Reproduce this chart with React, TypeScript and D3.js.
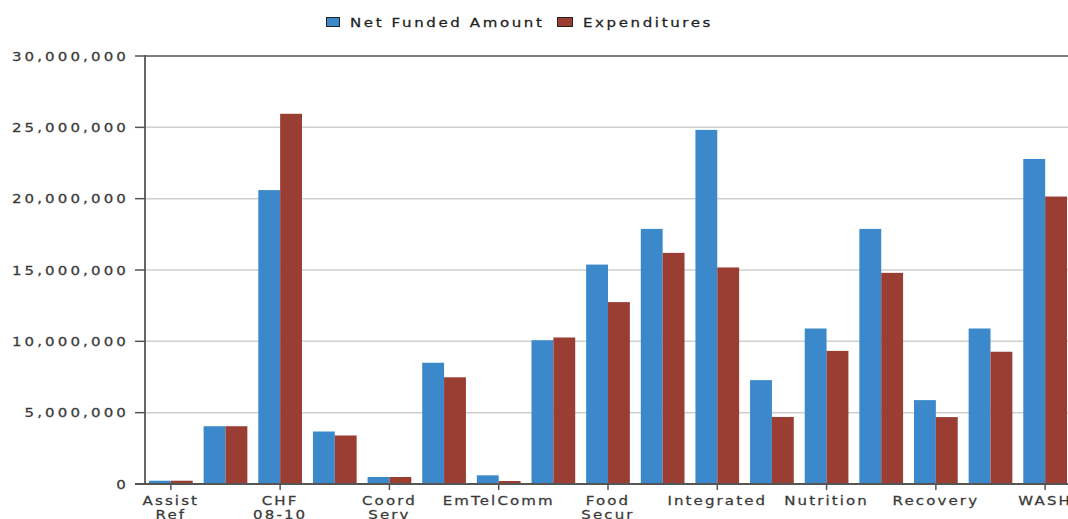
import React from "react";
import * as d3 from "d3";

const categories = [
  "Assist Ref", "CCCM", "CHF 08-10", "Cluster Coord", "Coord Serv", "Education",
  "EmTelComm", "Environment", "Food Secur", "Health", "Integrated", "Logistics",
  "Nutrition", "Protection", "Recovery", "Shelter NFI", "WASH",
];
const categoryLabels = [
  ["Assist", "Ref"], [], ["CHF", "08-10"], [], ["Coord", "Serv"], [],
  ["EmTelComm"], [], ["Food", "Secur"], [], ["Integrated"], [],
  ["Nutrition"], [], ["Recovery"], [], ["WASH"],
];
const netFunded = [
  230000, 4050000, 20600000, 3680000, 490000, 8500000,
  610000, 10080000, 15380000, 17880000, 24820000, 7280000,
  10900000, 17880000, 5880000, 10900000, 22780000,
];
const expenditures = [
  230000, 4050000, 25950000, 3400000, 490000, 7480000,
  210000, 10270000, 12750000, 16200000, 15180000, 4700000,
  9330000, 14800000, 4690000, 9270000, 20150000,
];
const yTicks = [0, 5000000, 10000000, 15000000, 20000000, 25000000, 30000000];
const seriesNames = ["Net Funded Amount", "Expenditures"];
const seriesColors = ["#3b89ca", "#9a3e33"];

const W = 1068;
const H = 519;
const left = 145;
const bandStart = 149;
const right = 1068;
const top = 56;
const bottom = 484;
const SX = 1.25;
const FONT = "'DejaVu Sans', Verdana, sans-serif";

function SText({ x, y, anchor, ls, children, fill, size }: any) {
  const c = fill ?? "#3a3a3a";
  return (
    <g transform={`translate(${x},${y}) scale(${SX},1)`}>
      <text
        textAnchor={anchor}
        fontFamily={FONT}
        fontSize={size ?? 12}
        letterSpacing={ls}
        fill={c}
        stroke={c}
        strokeWidth={0.25}
      >
        {children}
      </text>
    </g>
  );
}

export default function App() {
  const x0 = d3.scaleBand<string>().domain(categories).range([bandStart, right - 1]).paddingInner(0.2).paddingOuter(0);
  const x1 = d3.scaleBand<number>().domain([0, 1]).range([0, x0.bandwidth()]).padding(0);
  const y = d3.scaleLinear().domain([0, 30000000]).range([bottom, top]);
  const fmt = d3.format(",");
  const series = [netFunded, expenditures];

  return (
    <svg width={W} height={H} style={{ position: "absolute", left: 0, top: 0, background: "#fff" }}>
      {yTicks.filter((t) => t > 0 && t < 30000000).map((t) => (
        <line key={t} x1={left} x2={right} y1={y(t)} y2={y(t)} stroke="#cfcfcf" strokeWidth={1.5} />
      ))}
      <line x1={left} x2={right} y1={y(30000000)} y2={y(30000000)} stroke="#555" strokeWidth={1.5} />
      {categories.map((c, i) => (
        <g key={c}>
          {series.map((s, k) => (
            <rect
              key={k}
              x={(x0(c) ?? 0) + (x1(k) ?? 0)}
              y={y(s[i])}
              width={x1.bandwidth()}
              height={bottom - y(s[i])}
              fill={seriesColors[k]}
            />
          ))}
        </g>
      ))}
      <line x1={left} x2={left} y1={top - 1} y2={bottom + 1} stroke="#666" strokeWidth={2} />
      <line x1={left - 10} x2={right} y1={bottom} y2={bottom} stroke="#555" strokeWidth={2} />
      {yTicks.map((t) => (
        <g key={t}>
          <line x1={left - 10} x2={left} y1={y(t)} y2={y(t)} stroke="#555" strokeWidth={1.5} />
          <SText x={129} y={y(t) + 4.5} anchor="end" ls={2.5}>{fmt(t)}</SText>
        </g>
      ))}
      {categories.map((c, i) => {
        const lines = categoryLabels[i];
        if (!lines.length) return null;
        const cx = (x0(c) ?? 0) + x0.bandwidth() / 2;
        return (
          <g key={c}>
            <line x1={cx} x2={cx} y1={bottom} y2={bottom + 6} stroke="#555" strokeWidth={1.5} />
            {lines.map((l, j) => (
              <SText key={j} x={cx} y={505 + j * 13.5} anchor="middle" ls={1.7}>{l}</SText>
            ))}
          </g>
        );
      })}
      <rect x={326.5} y={17.5} width={13} height={9} fill={seriesColors[0]} stroke="#222" strokeWidth={1} />
      <SText x={350} y={27} anchor="start" ls={2.1} fill="#222">{seriesNames[0]}</SText>
      <rect x={557.5} y={17.5} width={15} height={9} fill={seriesColors[1]} stroke="#222" strokeWidth={1} />
      <SText x={583} y={27} anchor="start" ls={2.1} fill="#222">{seriesNames[1]}</SText>
    </svg>
  );
}
